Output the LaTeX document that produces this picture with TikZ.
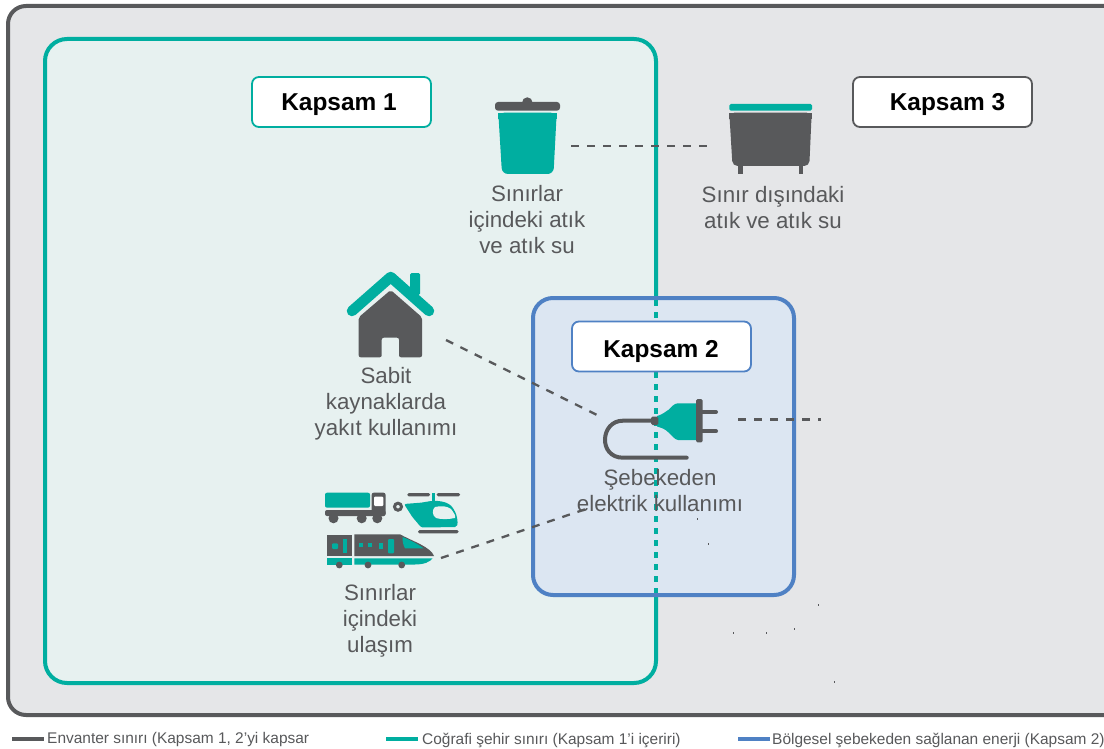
\documentclass[tikz,border=0pt]{standalone}
\usepackage{fontspec}
\setmainfont{Liberation Sans}
\definecolor{dk}{HTML}{58595B}
\definecolor{tl}{HTML}{00AEA0}
\definecolor{bl}{HTML}{4F81C4}
\definecolor{bgo}{HTML}{E5E6E8}
\definecolor{bgg}{HTML}{E7F1F0}
\definecolor{bgb}{HTML}{DCE6F2}
\newcommand{\tagtxt}[3]{\kern#1pt\raisebox{-#2pt}[0pt][0pt]{#3}\kern-#1pt}
\tikzset{
  captext/.style={font=\fontsize{22.3}{26}\selectfont, text=dk, align=center, inner sep=0pt},
  tag/.style={draw, fill=white, rounded corners=7pt, line width=1.8pt, minimum width=179pt, minimum height=50pt, inner sep=0pt, font=\fontsize{24.4}{28}\selectfont\bfseries, text=black},
  link/.style={draw=dk, line width=2.3pt, dash pattern=on 8pt off 8pt},
  legtext/.style={font=\fontsize{15.45}{17}\selectfont, text=dk, anchor=west, inner sep=0pt},
  legbar/.style={line width=4pt},
  speck/.style={draw=dk, line width=0.7pt}
}
\begin{document}
\begin{tikzpicture}[x=1pt,y=-1pt]
\clip (0,0) rectangle (1104,749);
\fill[white] (0,0) rectangle (1104,749);
% regions
\draw[dk, line width=4pt, fill=bgo, rounded corners=18pt] (8,6) rectangle (1130,715);
\draw[tl, line width=4pt, fill=bgg, rounded corners=22pt] (45,39) rectangle (656,683);
\draw[bl, line width=4pt, fill=bgb, rounded corners=20pt] (533,298) rectangle (794,595);
\draw[tl, line width=4pt, dash pattern=on 6pt off 6pt] (656,300) -- (656,593);
% tags
\node[tag, draw=tl] (k1) at (341.5,102) {\tagtxt{-2.5}{8.5}{Kapsam 1}};
\node[tag, draw=dk] (k3) at (942.5,102) {\tagtxt{5}{8.5}{Kapsam 3}};
\node[tag, draw=bl] (k2) at (661.5,346.5) {\tagtxt{-0.5}{11}{Kapsam 2}};
% anchors for connectors
\coordinate (binE) at (571,146);
\coordinate (contW) at (708,146);
\coordinate (houseE) at (446,340);
\coordinate (plugNW) at (597,415);
\coordinate (trainE) at (441,558);
\coordinate (plugSW) at (592,507);
\coordinate (plugE) at (738,419.5);
\coordinate (plugOut) at (821,419.5);
\draw[link] (binE) -- (contW);
\draw[link] (houseE) -- (plugNW);
\draw[link] (trainE) -- (plugSW);
\draw[link] (plugE) -- (plugOut);
% trash bin
\fill[dk, rounded corners=3pt] (495,102) rectangle (560,110.7);
\fill[dk] (527.3,102.5) circle (5.2);
\fill[tl, rounded corners=6pt] (498.3,112.7) -- (556.7,112.7) -- (553.5,174) -- (502,174) -- cycle;
\fill[tl] (498.3,112.7) rectangle (556.7,119);
% container
\fill[tl, rounded corners=1.5pt] (729.3,104) rectangle (812,110.7);
\fill[dk, rounded corners=5pt] (729.3,112.7) -- (811.7,112.7) -- (809.3,166) -- (732.5,166) -- cycle;
\fill[dk] (729.3,112.7) rectangle (811.7,119);
\fill[dk] (738.3,162) rectangle (742.7,174);
\fill[dk] (799,162) rectangle (803.3,174);
% house
\fill[tl, rounded corners=1.5pt] (410,273) rectangle (420,295);
\draw[tl, line width=10.5pt, line cap=round, line join=round] (352,311) -- (390.7,277) -- (429,311);
\fill[dk, rounded corners=2pt] (390.7,290) -- (422,317.3) -- (422,357.3) -- (399,357.3) -- (399,337.7) -- (381.7,337.7) -- (381.7,357.3) -- (358.7,357.3) -- (358.7,317.3) -- cycle;
% truck
\fill[tl, rounded corners=2pt] (325,492.7) rectangle (370,507.7);
\fill[dk, rounded corners=2pt] (371.7,492.7) rectangle (385.5,516);
\fill[white, rounded corners=1pt] (374,496.7) rectangle (383.3,506);
\fill[dk, rounded corners=2pt] (325,510) rectangle (385.5,516);
\foreach \cx in {333.5,361.7,377.3} \fill[dk] (\cx,518.3) circle (5);
% helicopter
\fill[dk, rounded corners=1.5pt] (407.3,493) rectangle (430,496.4);
\fill[dk, rounded corners=1.5pt] (436.7,493) rectangle (460,496.4);
\fill[tl] (432,492.7) rectangle (434.6,502);
\draw[dk, line width=3pt] (398,506.7) circle (3.5);
\fill[tl, rounded corners=2pt] (404,504) -- (423,502.5) .. controls (436,499.5) and (449,501) .. (454,510) .. controls (457,515) and (458,522) .. (457,527) -- (424,527.5) .. controls (420,527) and (417,522) .. (413,518) -- cycle;
\fill[bgg] (435,507) .. controls (441,505.5) and (447,506) .. (451,509) .. controls (454,513) and (456,516) .. (455,518) .. controls (448,519.5) and (441,519.5) .. (436,518) .. controls (432,516) and (432,509) .. (435,507) -- cycle;
\fill[dk, rounded corners=1.5pt] (418,530) rectangle (458.5,533.4);
% train
\fill[dk] (327.3,535) rectangle (352,556);
\fill[tl] (327.3,558.3) rectangle (352,564.5);
\fill[dk] (354.3,534.3) -- (400,534.3) .. controls (412,541) and (431,547) .. (434,556) -- (354.3,556) -- cycle;
\fill[tl] (354.3,558.3) -- (432.5,558.3) .. controls (430,562) and (424,564.5) .. (415,564.5) -- (354.3,564.5) -- cycle;
\fill[tl] (402.5,537) .. controls (410,540) and (418,544) .. (423.5,548.3) -- (405,548.3) .. controls (403,545) and (402.5,541) .. (402.5,537) -- cycle;
\fill[tl, rounded corners=1pt] (332,543.3) rectangle (338,549);
\fill[tl] (343.3,539) rectangle (347.3,553.3);
\fill[tl] (359,543.3) rectangle (362.7,546.7);
\fill[tl] (367.7,543.3) rectangle (371.7,546.7);
\fill[tl] (379,542.7) rectangle (382.7,549);
\fill[tl, rounded corners=1pt] (388,539) rectangle (394,553.3);
\foreach \cx in {339.3,368,401.7} \fill[dk] (\cx,565) circle (3.4);
% plug
\draw[dk, line width=4pt, line cap=round] (653,420.7) -- (623,420.7) .. controls (600,420.7) and (598,457.7) .. (623,457.7) -- (686.7,457.7);
\fill[tl] (657,416) .. controls (664,414) and (666,411) .. (669,409.5) .. controls (672,406.5) and (674,403.5) .. (678,403.3) -- (697,403.3) -- (697,440) -- (678,440) .. controls (674,439.5) and (672,435) .. (668,432) .. controls (665,429) and (662,428) .. (657,426.5) -- cycle;
\fill[dk, rounded corners=1.5pt] (651,416.7) rectangle (658.3,425);
\fill[dk, rounded corners=1.5pt] (696,399) rectangle (702.7,442.3);
\draw[dk, line width=4pt, line cap=round] (702,412) -- (716,412);
\draw[dk, line width=4pt, line cap=round] (702,431.3) -- (716,431.3);
% captions
\node[captext] (c1) at (527,220) {Sınırlar\\içindeki atık\\ve atık su};
\node[captext] (c2) at (773,208) {Sınır dışındaki\\atık ve atık su};
\node[captext] (c3) at (386,404) {Sabit\\kaynaklarda\\yakıt kullanımı};
\node[captext] (c4) at (660,491) {Şebekeden\\elektrik kullanımı};
\node[captext] (c5) at (380,621) {Sınırlar\\içindeki\\ulaşım};
% specks
\foreach \sx/\sy in {697/519,708/544,818/605,733/633,766/633,794/629,834/682}
  \draw[speck] (\sx,\sy-1) -- (\sx,\sy+1);
% legend
\coordinate (l1a) at (12,739); \coordinate (l1b) at (44,739);
\coordinate (l2a) at (386,739); \coordinate (l2b) at (418,739);
\coordinate (l3a) at (738,739); \coordinate (l3b) at (770,739);
\draw[legbar, dk] (l1a) -- (l1b);
\draw[legbar, tl] (l2a) -- (l2b);
\draw[legbar, bl] (l3a) -- (l3b);
\node[legtext] (t1) at (47,740) {Envanter sınırı (Kapsam 1, 2’yi kapsar};
\node[legtext] (t2) at (422,740) {Coğrafi şehir sınırı (Kapsam 1’i içeriri)};
\node[legtext] (t3) at (772,740) {Bölgesel şebekeden sağlanan enerji (Kapsam 2)};
\end{tikzpicture}
\end{document}
